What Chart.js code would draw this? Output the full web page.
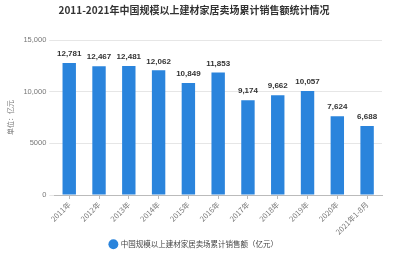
<!DOCTYPE html>
<html><head><meta charset="utf-8">
<script src="https://cdn.jsdelivr.net/npm/chart.js@4/dist/chart.umd.min.js"></script>
<style>html,body{margin:0;padding:0;background:#fff}#w{width:400px;height:261px}</style>
</head><body><div id="w"><canvas id="c"></canvas></div>
<script>
const categories = ["2011年","2012年","2013年","2014年","2015年","2016年","2017年","2018年","2019年","2020年","2021年1-8月"];
const sales = [12781,12467,12481,12062,10849,11853,9174,9662,10057,7624,6688];
const yTicks = [0,5000,10000,15000];
const seriesName = "中国规模以上建材家居卖场累计销售额（亿元）";
const titleText = "2011-2021年中国规模以上建材家居卖场累计销售额统计情况";
const yTitle = "单位：亿元";

const CJK = "'Noto Sans CJK SC','Noto Sans',sans-serif";
const labelPlugin = {
  id:'vals',
  afterDatasetsDraw(chart){
    const ctx = chart.ctx;
    const meta = chart.getDatasetMeta(0);
    ctx.save();
    ctx.font = "bold 8px 'Liberation Sans',Arial,sans-serif";
    ctx.fillStyle = "#333";
    ctx.textAlign = "center";
    ctx.textBaseline = "bottom";
    meta.data.forEach((b,i)=>{
      ctx.fillText(sales[i].toLocaleString('en-US'), b.x, b.y-5);
    });
    ctx.restore();
  }
};
new Chart(document.getElementById('c'),{
  type:'bar',
  data:{labels:categories,datasets:[{label:seriesName,data:sales,backgroundColor:'#2a84dc',barPercentage:0.45,categoryPercentage:1}]},
  options:{
    responsive:true,maintainAspectRatio:false,animation:false,devicePixelRatio:1,
    layout:{padding:{left:6,right:18,top:0,bottom:3}},
    plugins:{
      title:{display:true,text:titleText,color:'#333',font:{family:CJK,size:10,weight:'bold'},padding:{top:4,bottom:24}},
      legend:{position:'bottom',labels:{usePointStyle:true,pointStyle:'circle',boxWidth:7,boxHeight:7,color:'#444',font:{family:CJK,size:7.5},padding:3}},
      tooltip:{enabled:false}
    },
    scales:{
      x:{
        grid:{display:true,drawOnChartArea:false,offset:false,tickLength:4,color:'#bbb'},
        border:{color:'#bbb'},
        ticks:{color:'#777',font:{family:CJK,size:7.5},maxRotation:45,minRotation:45,autoSkip:false,padding:1}
      },
      y:{
        min:0,max:15000,
        afterBuildTicks(ax){ax.ticks = yTicks.map(v=>({value:v}));},
        grid:{color:'#e6e6e6',tickLength:5,drawTicks:true},
        border:{display:false},
        ticks:{color:'#777',font:{family:"'Liberation Sans',Arial,sans-serif",size:7.5},padding:3,
          callback:(v)=> v>=10000 ? v.toLocaleString('en-US') : String(v)},
        title:{display:true,text:yTitle,color:'#777',font:{family:CJK,size:7},padding:{top:0,bottom:6}}
      }
    }
  },
  plugins:[labelPlugin]
});
</script></body></html>
